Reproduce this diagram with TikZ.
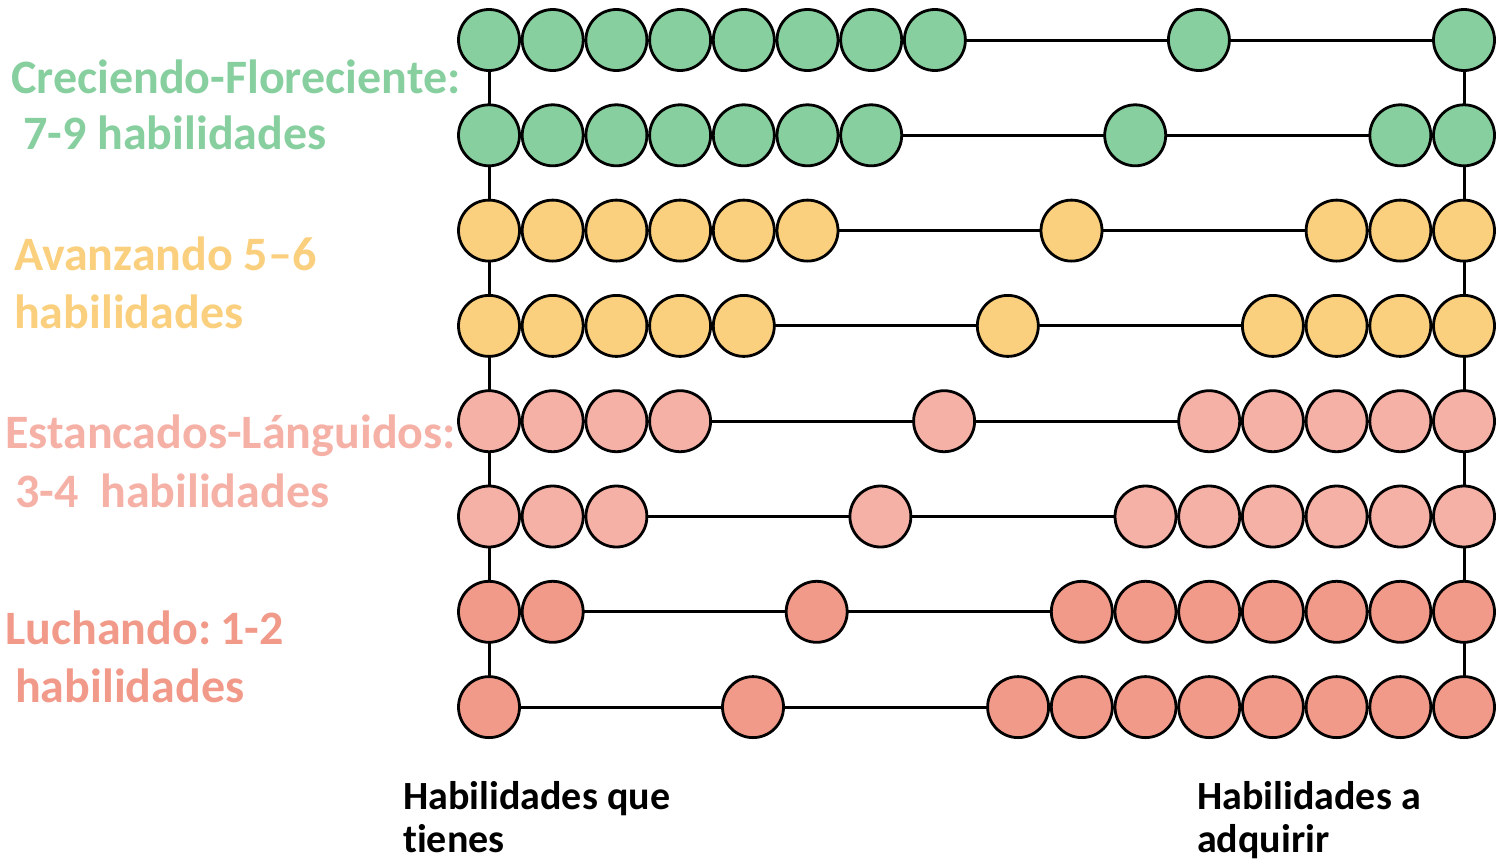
\documentclass[tikz,border=0pt]{standalone}
\usepackage{fontspec}
\setmainfont{Carlito}[Ligatures=NoCommon]
\usetikzlibrary{backgrounds}
\definecolor{grow}{HTML}{88CFA0}
\definecolor{adv}{HTML}{FAD07F}
\definecolor{stuck}{HTML}{F6B1A7}
\definecolor{fight}{HTML}{F29A8A}
\begin{document}
\begin{tikzpicture}[x=1pt, y=-1pt,
    bead/.style={circle, draw=black, line width=2.8pt, minimum size=61pt, inner sep=0pt},
    rod/.style={line width=3pt},
    lvl/.style={anchor=base west, inner sep=0pt, font=\bfseries\fontsize{48}{57}\selectfont},
    axis/.style={anchor=base west, inner sep=0pt, font=\bfseries\fontsize{40}{43}\selectfont}]
    \useasboundingbox (0,0) rectangle (1496,860);
    \foreach \r/\L/\col in {1/8/grow,2/7/grow,3/6/adv,4/5/adv,5/4/stuck,6/3/stuck,7/2/fight,8/1/fight}{
        \pgfmathsetmacro{\ypos}{40+95.3*(\r-1)}
        \foreach \k in {1,...,10}{
            \pgfmathsetmacro{\xpos}{\k<\L+1 ? 489+(\k-1)*63.7 : (\k==\L+1 ? 489+(\L-1)*63.7+264 : 1464-(10-\k)*63.7)}
            \node[bead, fill=\col] (b\r-\k) at (\xpos,\ypos) {};
        }
    }
    \begin{scope}[on background layer]
        \foreach \r in {1,...,8}
            \draw[rod] (b\r-1.center) -- (b\r-10.center);
        \draw[rod] (b1-1.center) -- (b8-1.center);
        \draw[rod] (b1-10.center) -- (b8-10.center);
    \end{scope}
    \node[lvl, text=grow] (grow1) at (11,93) {Creciendo-Floreciente:};
    \node[lvl, text=grow] (grow2) at (23,149) {7-9 habilidades};
    \node[lvl, text=adv] (adv1) at (14,270) {Avanzando 5–6};
    \node[lvl, text=adv] (adv2) at (14,328) {habilidades};
    \node[lvl, text=stuck] (stuck1) at (5,448) {Estancados-Lánguidos:};
    \node[lvl, text=stuck] (stuck2) at (15,507) {3-4\ \ habilidades};
    \node[lvl, text=fight] (fight1) at (5,644) {Luchando:\kern-2pt\ 1-2};
    \node[lvl, text=fight] (fight2) at (15,702) {habilidades};
    \node[axis] (have1) at (403,809) {Habilidades que};
    \node[axis] (have2) at (403,852) {tienes};
    \node[axis] (get1) at (1197,809) {Habilidades a};
    \node[axis] (get2) at (1197,852) {adquirir};
\end{tikzpicture}
\end{document}
